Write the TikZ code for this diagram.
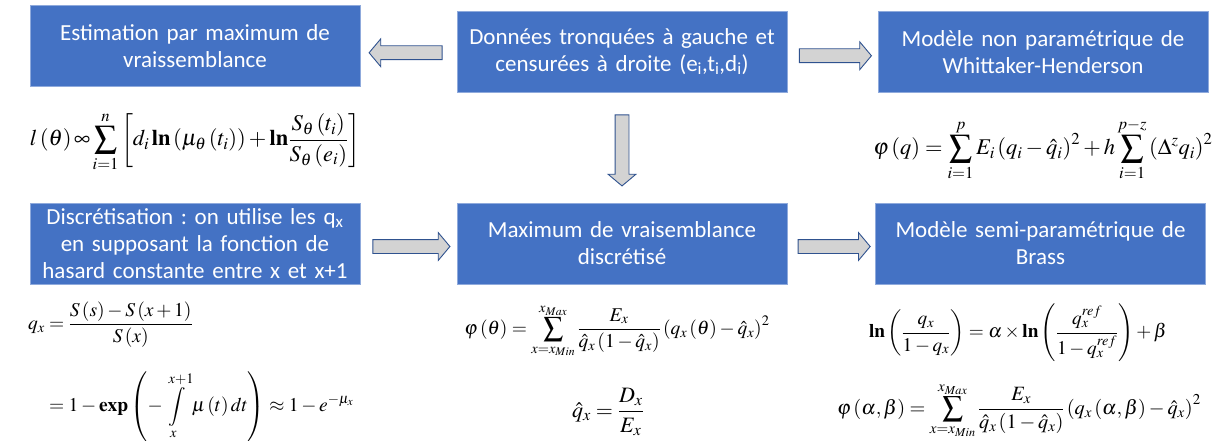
\documentclass[tikz,border=0pt]{standalone}
\usepackage{mathptmx}
\usepackage{amsmath}
\usepackage[no-math]{fontspec}
\newfontfamily\boxfont{Carlito}
\usetikzlibrary{arrows.meta,positioning,shapes.arrows,calc}
\definecolor{BoxBlue}  {HTML}{4472C4}
\definecolor{BoxEdge}  {HTML}{8FAADC}
\definecolor{ArrEdge}  {HTML}{2F528F}
\definecolor{ArrFill}  {HTML}{D3D3D3}
\frenchspacing
\tikzset{
  bbox/.style={rectangle,draw=BoxEdge,fill=BoxBlue,line width=0.8pt,
               minimum width=330pt,minimum height=81pt,text width=326pt,
               align=center,inner sep=0pt,
               font=\boxfont\fontsize{23}{27}\selectfont\color{white}},
  fatarr/.style={single arrow,draw=ArrEdge,fill=ArrFill,line width=0.9pt,
                 minimum height=#1,inner xsep=0pt,inner ysep=6.5pt,
                 single arrow head extend=7pt,single arrow tip angle=100},
  eq/.style={inner sep=0pt,font=\fontsize{#1}{24}\selectfont},
}
\begin{document}
\begin{tikzpicture}[x=1pt,y=-1pt]

  \useasboundingbox (0,0) rectangle (1222,441);

  % boxes
  \node[bbox] (est) at (195,46)    {Estimation par maximum de\\vraissemblance};
  \node[bbox] (don) at (622,51.5)  {Données tronquées à gauche et\\censurées à droite (e\textsubscript{i},t\textsubscript{i},d\textsubscript{i})};
  \node[bbox] (whi) at (1043,52)   {Modèle non paramétrique de\\Whittaker-Henderson};
  \node[bbox] (dis) at (195,243.5) {Discrétisation : on utilise les q\textsubscript{x}\\en supposant la fonction de\\hasard constante entre x et x+1};
  \node[bbox] (mvd) at (622,243.5) {Maximum de vraisemblance\\discrétisé};
  \node[bbox] (bra) at (1040.5,243.5) {Modèle semi-paramétrique de\\Brass};

  % block arrows
  \node[fatarr=73pt,rotate=180,yshift=4pt] (a1) at ($(don.west)!0.5!(est.east)$) {};
  \node[fatarr=72pt,yshift=-4pt] (a2) at ($(don.east)!0.5!(whi.west)$) {};
  \node[fatarr=71pt,rotate=-90] (a3) at ($(don.south)!0.5!(mvd.north)$) {};
  \node[fatarr=77pt,yshift=-3pt] (a4) at ($(dis.east)!0.5!(mvd.west)$) {};
  \node[fatarr=72pt,yshift=-3pt] (a5) at ($(mvd.east)!0.5!(bra.west)$) {};

  % formulas
  \node[eq=22.5] (fl) at (195,142)
    {$\displaystyle l\left(\theta\right)\infty\sum_{i=1}^{n}\left[d_i\,\mathbf{ln}\left(\mu_\theta\left(t_i\right)\right)+\mathbf{ln}\frac{S_\theta\left(t_i\right)}{S_\theta\left(e_i\right)}\right]$};
  \node[eq=22.5] (fw) at (1043,149)
    {$\displaystyle\varphi\left(q\right)=\sum_{i=1}^{p}E_i\left(q_i-\hat{q}_i\right)^2+h\sum_{i=1}^{p-z}\left(\Delta^z q_i\right)^2$};
  \node[eq=19.5,anchor=south west] (fq) at (28,442)
    {$\begin{aligned}
      q_x&=\frac{S\left(s\right)-S\left(x+1\right)}{S\left(x\right)}\\[20pt]
         &=1-\mathbf{exp}\left(-\int\limits_x^{x+1}\mu\left(t\right)dt\right)\approx1-e^{-\mu_x}
     \end{aligned}$};
  \node[eq=19.5] (fm) at (617,331)
    {$\displaystyle\varphi\left(\theta\right)=\sum_{x=x_{Min}}^{x_{Max}}\frac{E_x}{\hat{q}_x\left(1-\hat{q}_x\right)}\left(q_x\left(\theta\right)-\hat{q}_x\right)^2$};
  \node[eq=22] (fd) at (608,412)
    {$\displaystyle\hat{q}_x=\frac{D_x}{E_x}$};
  \node[eq=19.3] (fb) at (1018,333)
    {$\displaystyle\mathbf{ln}\left(\frac{q_x}{1-q_x}\right)=\alpha\times\mathbf{ln}\left(\frac{q_x^{ref}}{1-q_x^{ref}}\right)+\beta$};
  \node[eq=20.3,anchor=south] (fp) at (1019,439)
    {$\displaystyle\varphi\left(\alpha,\beta\right)=\sum_{x=x_{Min}}^{x_{Max}}\frac{E_x}{\hat{q}_x\left(1-\hat{q}_x\right)}\left(q_x\left(\alpha,\beta\right)-\hat{q}_x\right)^2$};

\end{tikzpicture}
\end{document}
